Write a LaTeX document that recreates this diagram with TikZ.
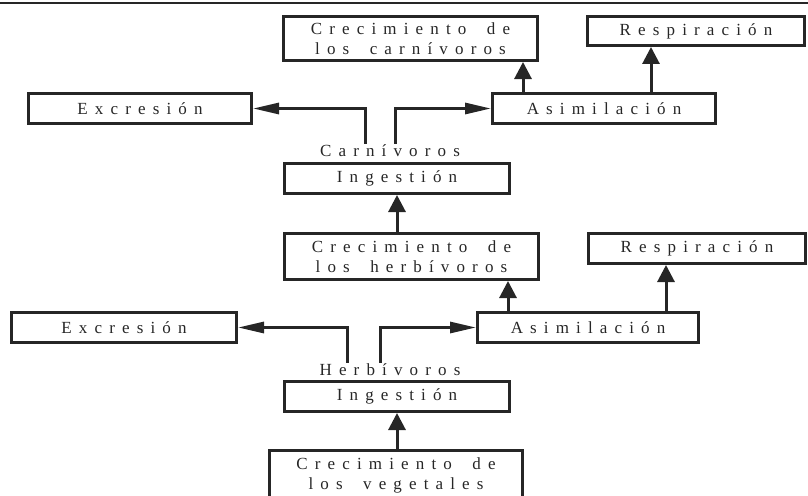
\documentclass[tikz,border=0pt]{standalone}
\usepackage{fontspec}
\setmainfont{Liberation Serif}[LetterSpace=42, WordSpace=1.8]
\usetikzlibrary{arrows.meta, positioning}
\tikzset{
    x=1pt, y=-1pt, % pixel grid of the scan, y downwards
    font=\fontsize{17}{20}\selectfont,
    %
    % boxes
    box/.style={
        rectangle, draw=black!85, line width=3pt,
        inner sep=0pt, align=center, text=black!85
    },
    lbl/.style={inner sep=0pt, text=black!85},
    %
    % connectors
    uparrow/.style={
        draw=black!85, line width=3pt,
        -{Triangle[length=17pt, width=17pt]}
    },
    sidearrow/.style={
        draw=black!85, line width=3pt,
        -{Triangle[length=26pt, width=11pt]}
    }
}

\begin{document}
\begin{tikzpicture}
	\useasboundingbox (0,0) rectangle (808,495);
	\draw[line width=2pt, black!85] (0,3) -- (808,3); % upper frame line

	%% carnivores
	\node (crecC) [box, minimum width=254, minimum height=44] at (410.5,38.5) {Crecimiento de\\los carnívoros};
	\node (respC) [box, minimum width=217, minimum height=29] at (696,31) {Respiración};
	\node (excC)  [box, minimum width=223, minimum height=30] at (140,108.5) {Excresión};
	\node (asimC) [box, minimum width=223, minimum height=30] at (604,108.5) {Asimilación};
	\node (ingC)  [box, minimum width=225, minimum height=30] at (397,178.5) {Ingestión};
	\node (labC)  [lbl, anchor=base] at (390,156) {Carnívoros};

	%% herbivores
	\node (crecH) [box, minimum width=254, minimum height=46] at (411.5,256.5) {Crecimiento de\\los herbívoros};
	\node (respH) [box, minimum width=217, minimum height=30] at (697,248.5) {Respiración};
	\node (excH)  [box, minimum width=225, minimum height=30] at (124,327.5) {Excresión};
	\node (asimH) [box, minimum width=221, minimum height=30] at (588,327.5) {Asimilación};
	\node (ingH)  [box, minimum width=225, minimum height=30] at (397,396.5) {Ingestión};
	\node (labH)  [lbl, anchor=base] at (390,375) {Herbívoros};
	\node (crecV) [box, minimum width=253, minimum height=50] at (396,475.5) {Crecimiento de\\los vegetales};

	%% connectors, carnivores
	\draw[sidearrow] ([xshift=-25pt]labC.north) |- (excC);
	\draw[sidearrow] ([xshift=5pt]labC.north) |- (asimC);
	\draw[uparrow] ([xshift=-81pt]asimC.north) -- ([xshift=-81pt]asimC.north |- crecC.south);
	\draw[uparrow] ([xshift=47pt]asimC.north) -- ([xshift=47pt]asimC.north |- respC.south);
	\draw[uparrow] (crecH.north -| ingC.south) -- (ingC.south);

	%% connectors, herbivores
	\draw[sidearrow] ([xshift=-43pt]labH.north) |- (excH);
	\draw[sidearrow] ([xshift=-10pt]labH.north) |- (asimH);
	\draw[uparrow] ([xshift=-80pt]asimH.north) -- ([xshift=-80pt]asimH.north |- crecH.south);
	\draw[uparrow] ([xshift=78pt]asimH.north) -- ([xshift=78pt]asimH.north |- respH.south);
	\draw[uparrow] (crecV.north -| ingH.south) -- (ingH.south);
\end{tikzpicture}
\end{document}
